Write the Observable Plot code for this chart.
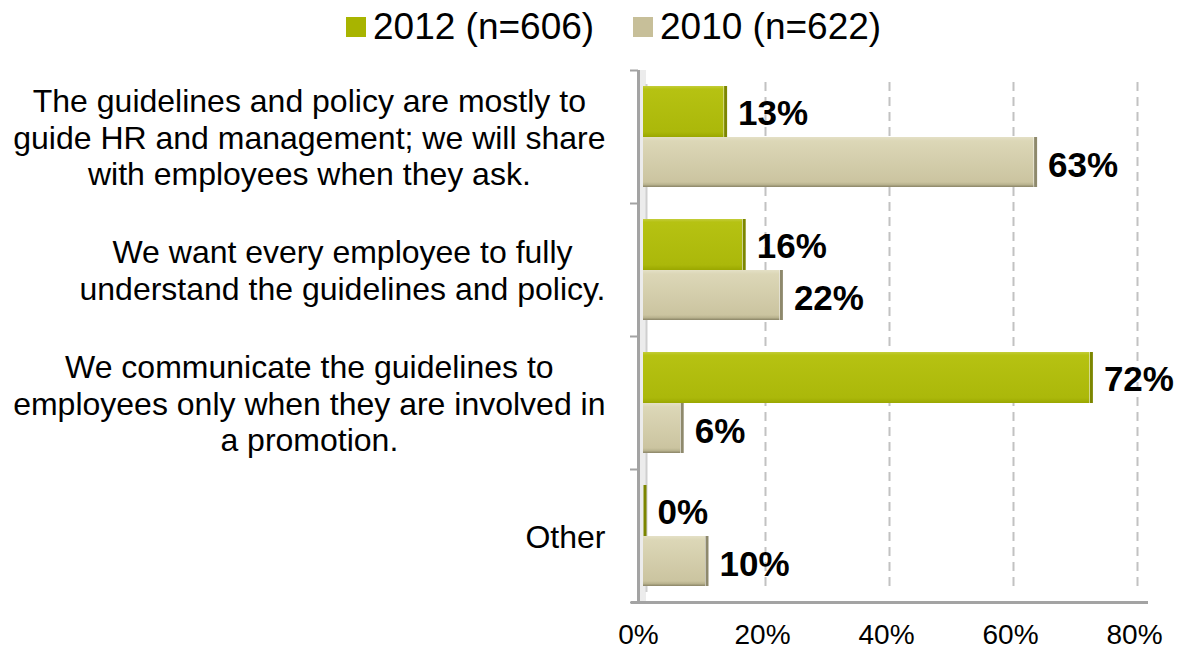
<!DOCTYPE html>
<html>
<head>
<meta charset="utf-8">
<script src="https://cdn.jsdelivr.net/npm/d3@7"></script>
<script src="https://cdn.jsdelivr.net/npm/@observablehq/plot@0.6"></script>
<style>
  body { margin: 0; background: #fff; font-family: "Liberation Sans", Arial, sans-serif; }
  #legend { position: relative; width: 1188px; height: 52px; }
  .item { position: absolute; top: 17px; height: 20px; display: flex; align-items: center; font-size: 37px; color: #000; white-space: nowrap; }
  .swatch { width: 20px; height: 20px; margin-right: 7px; flex: none; }
</style>
</head>
<body>
<div id="legend"></div>
<div id="chart"></div>
<script>
// Survey answers (one row per answer option)
const categories = [
  "The guidelines and policy are mostly to\nguide HR and management; we will share\nwith employees when they ask.",
  "We want every employee to fully\nunderstand the guidelines and policy.",
  "We communicate the guidelines to\nemployees only when they are involved in\na promotion.",
  "Other"
];
const seriesNames = ["2012 (n=606)", "2010 (n=622)"];
const values2012 = [13, 16, 72, 0];
const values2010 = [63, 22, 6, 10];
const xTicks = [0, 20, 40, 60, 80];
const gridTicks = [20, 40, 60, 80];

const colors = { s2012: "#a8b400", s2010: "#c7bf99" };

const rows = categories.map((c, i) => ({ category: c, v2012: values2012[i], v2010: values2010[i] }));

// Legend
const legend = d3.select("#legend");
[[seriesNames[0], colors.s2012, 346], [seriesNames[1], colors.s2010, 633]].forEach(([name, color, left]) => {
  const it = legend.append("div").attr("class", "item").style("left", left + "px");
  it.append("div").attr("class", "swatch").style("background", color);
  it.append("span").text(name);
});

// Layout
const W = 1188, H = 599, mTop = 18, mBottom = 49, mLeft = 643, mRight = 49;
const band = (H - mTop - mBottom) / categories.length;
const barH = 51, gap = 16;
const inset2012 = { insetTop: gap, insetBottom: band - gap - barH };
const inset2010 = { insetTop: gap + barH, insetBottom: gap };

// Gradients for the shaded bar faces
function defs() {
  const d = d3.create("svg:defs");
  const g1 = d.append("linearGradient").attr("id", "grad2012").attr("x1", 0).attr("x2", 0).attr("y1", 0).attr("y2", 1);
  [[0, "#c3cd3a"], [0.06, "#b6c212"], [0.9, "#abb80a"], [1, "#9aa700"]].forEach(([o, c]) =>
    g1.append("stop").attr("offset", o).attr("stop-color", c));
  const g2 = d.append("linearGradient").attr("id", "grad2010").attr("x1", 0).attr("x2", 0).attr("y1", 0).attr("y2", 1);
  [[0, "#e4e0c6"], [0.08, "#dcd7b7"], [0.9, "#cbc4a0"], [0.95, "#b9b38f"], [1, "#8a8466"]].forEach(([o, c]) =>
    g2.append("stop").attr("offset", o).attr("stop-color", c));
  return d.node();
}

const chart = Plot.plot({
  width: W, height: H,
  marginTop: mTop, marginBottom: mBottom, marginLeft: mLeft, marginRight: mRight,
  style: { fontFamily: "Liberation Sans, Arial, sans-serif", background: "#fff", color: "#000" },
  x: { domain: [0, 80] },
  y: { domain: categories, padding: 0 },
  marks: [
    defs,
    // back wall strip and gridlines
    Plot.ruleX([0], { dx: -1, stroke: "#ececec", strokeWidth: 7 }),
    Plot.ruleX([0], { dx: 3, stroke: "#cfcfcf", strokeWidth: 2, insetTop: 14, insetBottom: 10 }),
    Plot.ruleX(gridTicks, { dx: -2, stroke: "#c2c2c2", strokeWidth: 2, strokeDasharray: "9,6", insetTop: 12, insetBottom: 12 }),
    // left axis line with ticks between categories
    Plot.ruleX([0], { dx: -5, stroke: "#a3a3a3", strokeWidth: 3 }),
    Plot.ruleY(categories, { y: d => d, x1: 0, x2: 0, insetLeft: -13, insetRight: 5, dy: -band / 2, stroke: "#a3a3a3", strokeWidth: 2 }),
    Plot.ruleY(categories.slice(-1), { y: d => d, x1: 0, x2: 0, insetLeft: -13, insetRight: 5, dy: band / 2, stroke: "#a3a3a3", strokeWidth: 2 }),
    // floor
    Plot.frame({ anchor: "bottom", stroke: "#a3a3a3", strokeWidth: 3, insetLeft: -11, insetRight: -7 }),
    // bars
    Plot.barX(rows, { x: "v2012", y: "category", fill: "url(#grad2012)", ...inset2012 }),
    Plot.tickX(rows, { x: "v2012", y: "category", stroke: "#7c8600", strokeWidth: 3, dx: 1.5, ...inset2012 }),
    Plot.barX(rows, { x: "v2010", y: "category", fill: "url(#grad2010)", ...inset2010 }),
    Plot.tickX(rows, { x: "v2010", y: "category", stroke: "#8e896c", strokeWidth: 3, dx: 1.5, ...inset2010 }),
    // value labels
    Plot.text(rows, { x: "v2012", y: "category", text: d => d.v2012 + "%", dx: 14, dy: -23.5, textAnchor: "start", fontSize: 35, fontWeight: "bold", fill: "#000" }),
    Plot.text(rows, { x: "v2010", y: "category", text: d => d.v2010 + "%", dx: 14, dy: 28.5, textAnchor: "start", fontSize: 35, fontWeight: "bold", fill: "#000" }),
    // axes
    Plot.axisX({ ticks: xTicks, tickFormat: d => d + "%", tickSize: 0, tickPadding: 22, fontSize: 28, dx: -5, label: null }),
    Plot.axisY({ tickSize: 0, tickPadding: 38, fontSize: 32, lineHeight: 1.14, label: null })
  ]
});

document.getElementById("chart").appendChild(chart);

// Center each wrapped line within its right-aligned label block
d3.select(chart).selectAll('[aria-label="y-axis tick label"] text').each(function () {
  const tspans = d3.select(this).selectAll("tspan");
  if (tspans.empty()) return;
  let maxW = 0;
  tspans.each(function () { maxW = Math.max(maxW, this.getComputedTextLength()); });
  d3.select(this).attr("text-anchor", "middle");
  tspans.attr("x", -maxW / 2);
});
</script>
</body>
</html>
